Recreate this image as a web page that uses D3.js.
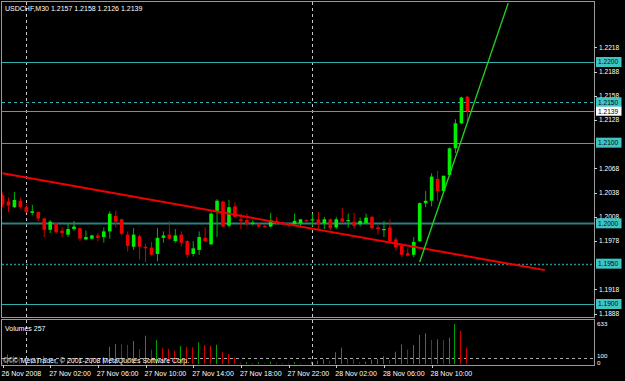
<!DOCTYPE html>
<html><head><meta charset="utf-8">
<script src="https://cdn.jsdelivr.net/npm/d3@7"></script>
<style>body{margin:0;background:#000;overflow:hidden}svg{display:block}</style>
</head><body><svg id="c" width="625" height="381"></svg>
<script>
// ---------- DATA ----------
const title = "USDCHF,M30  1.2157 1.2158 1.2126 1.2139";
const openP = [1.2035,1.2027,1.2020,1.2028,1.2020,1.2013,1.2014,1.2006,1.1992,1.2000,
1.1991,1.1986,1.1993,1.1994,1.1980,1.1981,1.1985,1.1983,1.1990,1.2009,
1.2005,1.1986,1.1971,1.1984,1.1971,1.1970,1.1962,1.1982,1.1986,1.1978,
1.1986,1.1978,1.1962,1.1967,1.1982,1.1974,1.2014,1.2027,1.1997,1.2021,
1.2005,1.2004,1.2000,1.1999,1.1997,1.1996,1.2003,1.2001,1.1999,1.1999,
1.2000,1.2004,1.2004,1.2005,1.2000,1.2005,1.1995,1.2006,1.2003,1.2002,
1.1999,1.2000,1.2008,1.1995,1.1992,1.1995,1.1980,1.1972,1.1963,1.1961,
1.1978,1.2025,1.2028,1.2055,1.2040,1.2060,1.2093,1.2124,1.2157];
const highP = [1.2038,1.2032,1.2039,1.2032,1.2024,1.2023,1.2015,1.2007,1.2004,1.2001,
1.1995,1.2000,1.2003,1.1995,1.1991,1.1986,1.1988,1.1995,1.2015,1.2016,
1.2006,1.1990,1.1994,1.1986,1.1975,1.1977,1.1994,1.1990,1.2003,1.1993,
1.1990,1.1979,1.1978,1.1990,1.1995,1.2014,1.2030,1.2028,1.2029,1.2026,
1.2012,1.2012,1.2004,1.2000,1.1998,1.2013,1.2008,1.2002,1.2000,1.2012,
1.2005,1.2005,1.2012,1.2014,1.2008,1.2006,1.2008,1.2019,1.2012,1.2013,
1.2007,1.2012,1.2009,1.1998,1.2003,1.2005,1.1983,1.1974,1.1969,1.1983,
1.2026,1.2040,1.2062,1.2065,1.2059,1.2094,1.2129,1.2157,1.2158];
const lowP = [1.2020,1.2014,1.2019,1.2018,1.2013,1.2010,1.2003,1.1983,1.1988,1.1987,
1.1983,1.1983,1.1991,1.1978,1.1979,1.1980,1.1978,1.1976,1.1981,1.1995,
1.1985,1.1965,1.1967,1.1955,1.1952,1.1960,1.1953,1.1976,1.1980,1.1976,
1.1971,1.1957,1.1959,1.1961,1.1977,1.1973,1.1983,1.1995,1.1995,1.2007,
1.1993,1.1996,1.1997,1.1995,1.1995,1.1995,1.1999,1.1998,1.1996,1.1997,
1.1996,1.2002,1.1996,1.1993,1.1993,1.1992,1.1993,1.2001,1.1995,1.1994,
1.1996,1.2000,1.1992,1.1986,1.1983,1.1977,1.1966,1.1958,1.1959,1.1958,
1.1977,1.2020,1.2021,1.2028,1.2039,1.2059,1.2087,1.2123,1.2126];
const closeP = [1.2023,1.2022,1.2029,1.2020,1.2014,1.2015,1.2006,1.1992,1.2002,1.1989,
1.1988,1.1993,1.1996,1.1981,1.1983,1.1985,1.1982,1.1990,1.2012,1.2002,
1.1987,1.1972,1.1986,1.1971,1.1969,1.1961,1.1982,1.1985,1.1981,1.1985,
1.1976,1.1961,1.1969,1.1983,1.1978,1.2012,1.2028,1.1996,1.2020,1.2008,
1.2003,1.1999,1.2001,1.1996,1.1996,1.2004,1.2000,1.1999,1.1998,1.2003,
1.2005,1.2003,1.2005,1.1999,1.2005,1.1994,1.2005,1.2002,1.2004,1.1997,
1.2003,1.2007,1.1994,1.1993,1.1993,1.1978,1.1970,1.1961,1.1960,1.1977,
1.2025,1.2028,1.2058,1.2040,1.2059,1.2093,1.2124,1.2156,1.2139];
const volumes = [20,150,130,110,90,60,80,120,90,70,
50,60,45,100,60,70,55,110,274,316,
311,301,364,237,448,227,380,250,240,211,
285,269,265,343,301,290,305,185,158,106,
20,30,15,25,10,35,20,15,10,30,
12,6,37,53,74,53,185,258,90,79,
26,37,69,79,121,63,195,311,227,301,
459,485,380,390,380,416,633,522,257];
const timeTickIdx = [0,8,16,24,32,40,48,56,64,72];
const timeTickLabels = ["26 Nov 2008","27 Nov 02:00","27 Nov 06:00","27 Nov 10:00","27 Nov 14:00",
"27 Nov 18:00","27 Nov 22:00","28 Nov 02:00","28 Nov 06:00","28 Nov 10:00"];
// labels 1.1948 and 1.2098 are hidden behind the level boxes in the reference
const priceTicks = [1.1888,1.1918,1.1978,1.2008,1.2038,1.2068,1.2128,1.2158,1.2188,1.2218];
const levelPrices = [1.2200,1.2150,1.2100,1.2000,1.1950,1.1900];
const bidPrice = 1.2139;
const dayGridIdx = [4,52];
const redTrend = [[0,1.2062],[91,1.1942]];
const greenTrend = [[70,1.1952],[84.85,1.2273]];
const volumeLabel = "Volumes 257";
const volAxisLabels = [633,100,0];
const copyright = "©©© MetaTrader, © 2001-2008 MetaQuotes Software Corp.";

// ---------- LAYOUT ----------
const svg = d3.select("#c");
const W = 625, H = 381;
const left = 2, right = 594, mainTop = 2, mainBottom = 317, volTop = 320, volBottom = 365;
svg.append("rect").attr("width",W).attr("height",H).attr("fill","#000");

const x = d3.scaleLinear().domain([0,99]).range([2.5, 2.5+5.96*99]);
const y = d3.scaleLinear().domain([1.1900,1.2200]).range([304,62]);
const yv = d3.scaleLinear().domain([0,633]).range([364,324]);

const defs = svg.append("defs");
defs.append("clipPath").attr("id","mainClip").append("rect")
  .attr("x",left).attr("y",mainTop).attr("width",right-left).attr("height",mainBottom-mainTop);
defs.append("clipPath").attr("id","volClip").append("rect")
  .attr("x",left).attr("y",volTop).attr("width",right-left).attr("height",volBottom-volTop);

const font = "'Liberation Sans', Arial, sans-serif";

// grid verticals
const grid = svg.append("g");
dayGridIdx.forEach(i=>{
  grid.append("line").attr("x1",Math.round(x(i))+0.5).attr("x2",Math.round(x(i))+0.5)
    .attr("y1",mainTop).attr("y2",volBottom)
    .attr("stroke","#c8c8c8").attr("stroke-width",1).attr("stroke-dasharray","3,3");
});

// main plot
const main = svg.append("g").attr("clip-path","url(#mainClip)");

levelPrices.forEach(p=>{
  const yy = Math.round(y(p))+0.5;
  const ln = main.append("line").attr("x1",left).attr("x2",right).attr("y1",yy).attr("y2",yy);
  if (p===1.2150) ln.attr("stroke","#2fb5b5").attr("stroke-dasharray","3,3");
  else if (p===1.1950) ln.attr("stroke","#2a8c8c").attr("stroke-dasharray","2,2").attr("stroke-width",1.5);
  else if (p===1.2000) ln.attr("stroke","#2a8282").attr("stroke-width",2);
  else ln.attr("stroke","#2fb0b0");
});
main.append("line").attr("x1",left).attr("x2",right)
  .attr("y1",Math.round(y(bidPrice))+0.5).attr("y2",Math.round(y(bidPrice))+0.5)
  .attr("stroke","#8a8a8a");

const idx = d3.range(openP.length);
const bw = 3.6;
const cg = main.append("g");
cg.selectAll("line.wick").data(idx).join("line")
  .attr("x1",i=>x(i)).attr("x2",i=>x(i))
  .attr("y1",i=>y(highP[i])).attr("y2",i=>y(lowP[i]))
  .attr("stroke",i=>closeP[i]>=openP[i]?"#00b400":"#d00000").attr("stroke-width",1);
cg.selectAll("rect.body").data(idx).join("rect")
  .attr("x",i=>x(i)-bw/2).attr("width",bw)
  .attr("y",i=>y(Math.max(openP[i],closeP[i])))
  .attr("height",i=>Math.max(1.2, Math.abs(y(openP[i])-y(closeP[i]))))
  .attr("fill",i=>closeP[i]>=openP[i]?"#00ee00":"#ee0000");

main.append("line")
  .attr("x1",x(redTrend[0][0])).attr("y1",y(redTrend[0][1]))
  .attr("x2",x(redTrend[1][0])).attr("y2",y(redTrend[1][1]))
  .attr("stroke","#f00000").attr("stroke-width",2);
main.append("line")
  .attr("x1",x(greenTrend[0][0])).attr("y1",y(greenTrend[0][1]))
  .attr("x2",x(greenTrend[1][0])).attr("y2",y(greenTrend[1][1]))
  .attr("stroke","#22d022").attr("stroke-width",1.4);

svg.append("text").attr("x",5).attr("y",10.5).attr("fill","#fff")
  .attr("font-family",font).attr("font-size",7).text(title);

const frame = svg.append("g").attr("fill","none").attr("stroke","#9a9a9a");
frame.append("rect").attr("x",left-0.5).attr("y",mainTop-0.5).attr("width",right-left+1).attr("height",mainBottom-mainTop+1);
frame.append("rect").attr("x",left-0.5).attr("y",volTop-0.5).attr("width",right-left+1).attr("height",volBottom-volTop+1);

const pa = svg.append("g");
priceTicks.forEach(p=>{
  const yy = y(p);
  pa.append("line").attr("x1",right).attr("x2",right+3).attr("y1",Math.round(yy)+0.5).attr("y2",Math.round(yy)+0.5).attr("stroke","#ccc");
  pa.append("text").attr("x",599).attr("y",yy+2.4).attr("fill","#fff")
    .attr("font-family",font).attr("font-size",6.6).text(p.toFixed(4));
});
levelPrices.forEach(p=>{
  const yy = y(p);
  pa.append("rect").attr("x",596).attr("y",yy-5).attr("width",25.5).attr("height",10).attr("fill","#3fc4c4");
  pa.append("text").attr("x",598).attr("y",yy+2.4).attr("fill","#0a0a0a")
    .attr("font-family",font).attr("font-size",6.6).text(p.toFixed(4));
});
{
  const yy = y(bidPrice);
  pa.append("rect").attr("x",596).attr("y",yy-4.5).attr("width",25.5).attr("height",9).attr("fill","#fff");
  pa.append("text").attr("x",598).attr("y",yy+2.4).attr("fill","#000")
    .attr("font-family",font).attr("font-size",6.6).text(bidPrice.toFixed(4));
}

const vg = svg.append("g").attr("clip-path","url(#volClip)");
vg.append("line").attr("x1",left).attr("x2",right).attr("y1",Math.round(yv(100))+0.5).attr("y2",Math.round(yv(100))+0.5)
  .attr("stroke","#aaa").attr("stroke-dasharray","3,3");
vg.selectAll("line.vol").data(idx).join("line")
  .attr("x1",i=>Math.round(x(i)-1)+0.5).attr("x2",i=>Math.round(x(i)-1)+0.5)
  .attr("y1",yv(0)).attr("y2",i=>yv(volumes[i]))
  .attr("stroke",i=>(i>0 && volumes[i]>volumes[i-1])?"#00a000":"#d00000").attr("stroke-width",1);
vg.append("text").attr("x",5).attr("y",330.5).attr("fill","#fff")
  .attr("font-family",font).attr("font-size",7).text(volumeLabel);
vg.append("text").attr("x",3).attr("y",362.5).attr("fill","#fff")
  .attr("font-family",font).attr("font-size",7).text(copyright);
// axis labels of the volume pane: "100" slightly raised, "0" at the base
const volLabelY = v => v===0 ? yv(0)+1 : (v===100 ? yv(v)+0.6 : yv(v)+2.4);
volAxisLabels.forEach(v=>{
  svg.append("text").attr("x",597).attr("y",volLabelY(v)).attr("fill","#fff")
    .attr("font-family",font).attr("font-size",6.2).text(v);
});

const ta = svg.append("g");
timeTickIdx.forEach((ti,k)=>{
  const xx = Math.round(x(ti))+0.5;
  ta.append("line").attr("x1",xx).attr("x2",xx).attr("y1",volBottom).attr("y2",volBottom+3).attr("stroke","#ccc");
  ta.append("text").attr("x",x(ti)-1).attr("y",375.5).attr("fill","#fff")
    .attr("font-family",font).attr("font-size",7).text(timeTickLabels[k]);
});
</script></body></html>
